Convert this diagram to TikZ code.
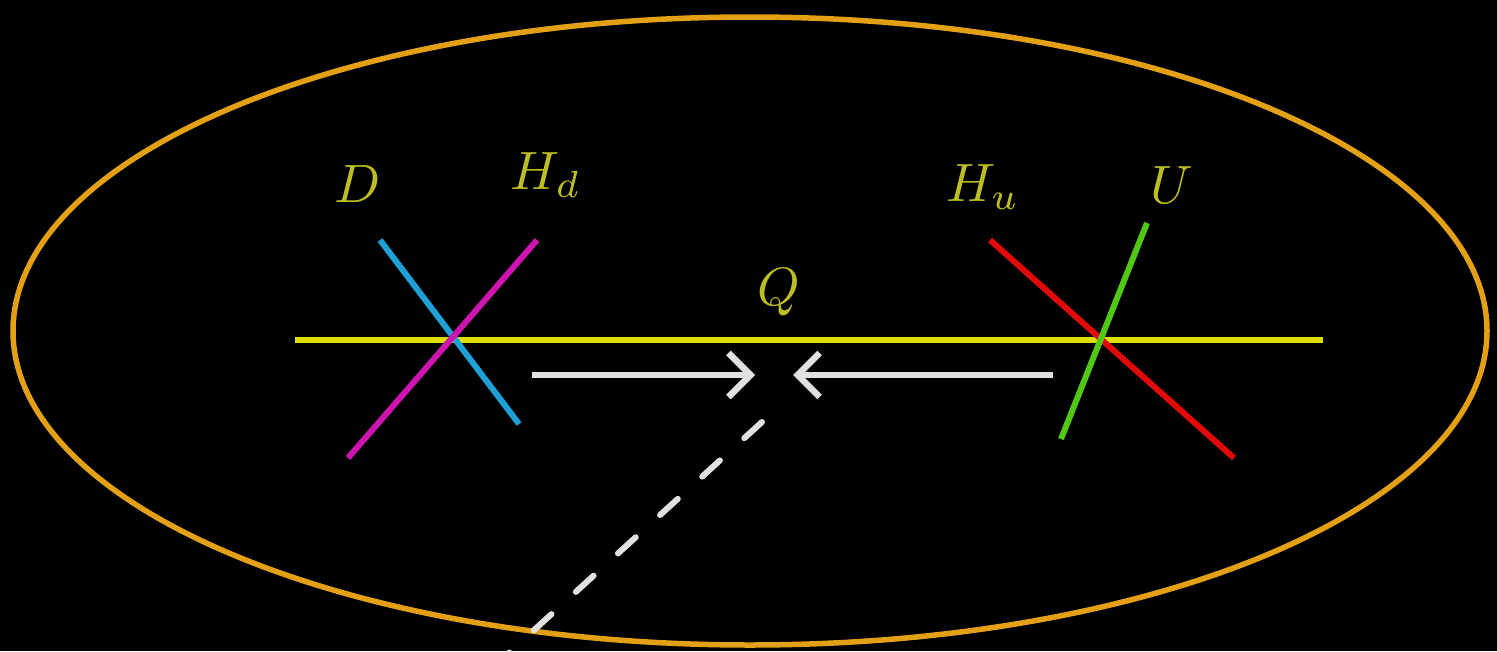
\documentclass[tikz,border=0pt]{standalone}
\usetikzlibrary{arrows.meta}
\definecolor{orng}{RGB}{228,160,20}
\definecolor{yline}{RGB}{222,222,10}
\definecolor{lab}{RGB}{190,190,35}
\definecolor{cyanl}{RGB}{30,160,215}
\definecolor{magl}{RGB}{205,20,175}
\definecolor{redl}{RGB}{225,10,10}
\definecolor{grnl}{RGB}{80,200,20}
\definecolor{wht}{RGB}{225,225,225}
\tikzset{
  brane/.style={line width=6pt},
  lbl/.style={text=lab, inner sep=0pt, scale=5.4, transform shape},
  flow/.style={wht, line width=6.5pt, -{Straight Barb[length=22pt,width=44pt,line width=6.5pt]}},
}
\begin{document}
\begin{tikzpicture}[x=1pt,y=-1pt]
\fill[black] (0,0) rectangle (1497,651);
\useasboundingbox (0,0) rectangle (1497,651);
\draw[orng, line width=5.5pt] (750,331) ellipse [x radius=737, y radius=314];
% coordinates
\coordinate (qL) at (295,340);
\coordinate (qR) at (1323,340);
\coordinate (c1) at (380,240);
\coordinate (c2) at (519,424);
\coordinate (m1) at (537,240);
\coordinate (m2) at (348,458);
\coordinate (r1) at (990,240);
\coordinate (r2) at (1234,458);
\coordinate (g1) at (1147,223);
\coordinate (g2) at (1061,439);
\draw[brane, yline] (qL) -- (qR);
\draw[brane, cyanl] (c1) -- (c2);
\draw[brane, magl] (m1) -- (m2);
\draw[brane, redl] (r1) -- (r2);
\draw[brane, grnl] (g1) -- (g2);
% labels
\node[lbl] (D) at (358,184) {$D$};
\node[lbl] (Hd) at (546,175) {$H_d$};
\node[lbl] (Hu) at (983,187) {$H_u$};
\node[lbl] (U) at (1172,185) {$U$};
\node[lbl] (Q) at (779,292) {$Q$};
% arrows
\coordinate (a1s) at (532,375);
\coordinate (a1e) at (755,375);
\coordinate (a2s) at (1053,375);
\coordinate (a2e) at (793,375);
\draw[flow] (a1s) -- (a1e);
\draw[flow] (a2s) -- (a2e);
% dashed
\coordinate (ds) at (762,422);
\coordinate (de) at (499,662);
\draw[wht, line width=6pt, line cap=round, dash pattern=on 24pt off 33pt] (ds) -- (de);
\end{tikzpicture}
\end{document}
